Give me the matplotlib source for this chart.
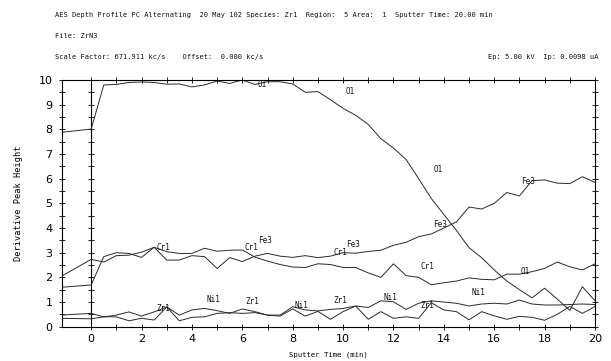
import matplotlib
matplotlib.use("Agg")
import matplotlib.pyplot as plt

# tiempo de bombardeo (min); primer punto = lectura antes del sputter
t_ini = -1.17
t_sputter = [i * 0.5 for i in range(41)]
tiempo = [t_ini] + t_sputter

o1 = [7.88, 8.01, 9.80, 9.82, 9.90, 9.92, 9.90, 9.83, 9.84, 9.72, 9.80,
      9.96, 9.86, 10.0, 9.82, 9.93, 9.93, 9.84, 9.50, 9.53, 9.20, 8.85,
      8.57, 8.20, 7.62, 7.24, 6.78, 6.00, 5.20, 4.55, 3.90, 3.20, 2.80,
      2.30, 1.85, 1.50, 1.17, 1.56, 1.12, 0.66, 1.62, 1.05]
fe3 = [2.05, 2.73, 2.62, 2.88, 2.90, 3.02, 3.22, 2.70, 2.70, 2.88, 2.84,
       2.36, 2.80, 2.64, 2.86, 2.97, 2.86, 2.81, 2.88, 2.80, 2.86, 3.00,
       2.98, 3.05, 3.10, 3.30, 3.42, 3.65, 3.76, 4.00, 4.25, 4.85, 4.77,
       5.00, 5.44, 5.30, 5.92, 5.95, 5.82, 5.80, 6.08, 5.85]
cr1 = [1.60, 1.69, 2.84, 3.00, 2.97, 2.81, 3.22, 3.04, 2.97, 2.97, 3.18,
       3.06, 3.10, 3.11, 2.82, 2.66, 2.52, 2.42, 2.40, 2.55, 2.52, 2.40,
       2.40, 2.18, 2.00, 2.55, 2.07, 2.00, 1.70, 1.78, 1.85, 1.98, 1.92,
       1.90, 2.13, 2.13, 2.23, 2.36, 2.62, 2.43, 2.30, 2.55]
ni1 = [0.47, 0.54, 0.40, 0.47, 0.60, 0.43, 0.60, 0.80, 0.47, 0.68, 0.74,
       0.65, 0.54, 0.72, 0.61, 0.47, 0.47, 0.81, 0.68, 0.64, 0.70, 0.74,
       0.84, 0.78, 1.05, 1.01, 0.70, 0.95, 1.05, 1.00, 0.95, 0.84, 0.92,
       0.95, 0.92, 1.08, 0.92, 0.88, 0.88, 0.90, 0.92, 0.90]
zr1 = [0.34, 0.32, 0.40, 0.40, 0.24, 0.34, 0.27, 0.80, 0.24, 0.38, 0.40,
       0.54, 0.57, 0.54, 0.57, 0.47, 0.43, 0.72, 0.43, 0.62, 0.30, 0.61,
       0.84, 0.30, 0.61, 0.34, 0.40, 0.34, 0.97, 0.68, 0.61, 0.28, 0.61,
       0.44, 0.30, 0.42, 0.38, 0.26, 0.50, 0.82, 0.54, 0.82]

series = {"O1": o1, "Fe3": fe3, "Cr1": cr1, "Ni1": ni1, "Zr1": zr1}

# etiquetas de cada curva (t, altura)
etiquetas = [
    ("O1", 6.8, 9.83), ("O1", 10.28, 9.53), ("O1", 13.78, 6.38), ("O1", 17.22, 2.23),
    ("Fe3", 6.9, 3.51), ("Fe3", 10.41, 3.35), ("Fe3", 13.85, 4.16), ("Fe3", 17.35, 5.88),
    ("Cr1", 2.87, 3.22), ("Cr1", 6.38, 3.22), ("Cr1", 9.88, 3.0), ("Cr1", 13.36, 2.43),
    ("Ni1", 4.85, 1.11), ("Ni1", 8.36, 0.84), ("Ni1", 11.87, 1.19), ("Ni1", 15.37, 1.38),
    ("Zr1", 2.87, 0.74), ("Zr1", 6.38, 1.01), ("Zr1", 9.88, 1.05), ("Zr1", 13.36, 0.84),
]

mono = "DejaVu Sans Mono"
W, H = 611, 361

fig = plt.figure(figsize=(W / 100, H / 100), dpi=100)
ax = fig.add_axes([61.7 / W, 1 - 326.7 / H, (595 - 61.7) / W, (326.7 - 80) / H])

for nombre, valores in series.items():
    ax.plot(tiempo, valores, color="#2a2a2a", lw=0.7)

for texto, tx, ty in etiquetas:
    ax.text(tx, ty, texto, fontsize=5.5, family=mono, ha="center", va="center",
            color="#111111")

ax.set_xlim(t_ini, 20)
ax.set_ylim(0, 10)
ax.set_xticks(range(0, 21, 2))
ax.set_xticks(range(0, 21), minor=True)
ax.set_yticks(range(0, 11))
ax.set_yticks([i * 0.5 for i in range(21)], minor=True)
ax.tick_params(which="both", direction="inout", length=4, width=0.6,
               top=True, right=True, labelsize=8, pad=3.5)
ax.tick_params(axis="y", pad=4.5)
for s in ax.spines.values():
    s.set_linewidth(0.8)

# eje auxiliar en t = 0 (inicio del sputter)
frac0 = (0 - t_ini) / (20 - t_ini)
eje0 = ax.secondary_yaxis(frac0)
eje0.set_yticks(range(0, 11))
eje0.set_yticks([i * 0.5 for i in range(21)], minor=True)
eje0.tick_params(which="both", direction="inout", length=4, width=0.6,
                 labelleft=False, labelright=False)
eje0.spines["left"].set_linewidth(0.8)

ax.set_xlabel("Sputter Time (min)", family=mono, fontsize=5.2, labelpad=5)
ax.set_ylabel("Derivative Peak Height", family=mono, fontsize=6.2, labelpad=11)

cab = dict(family=mono, fontsize=5.0, va="center", color="#111111")
fig.text(55 / W, 1 - 15 / H,
         "AES Depth Profile PC Alternating  20 May 102 Species: Zr1  Region:  5 Area:  1  Sputter Time: 20.00 min",
         ha="left", **cab)
fig.text(55 / W, 1 - 36 / H, "File: ZrN3", ha="left", **cab)
fig.text(55 / W, 1 - 57 / H, "Scale Factor: 671.911 kc/s    Offset:  0.000 kc/s",
         ha="left", **cab)
fig.text(598 / W, 1 - 57 / H, "Ep: 5.00 kV  Ip: 0.0098 uA", ha="right", **cab)

fig.savefig("out.png", dpi=100)
